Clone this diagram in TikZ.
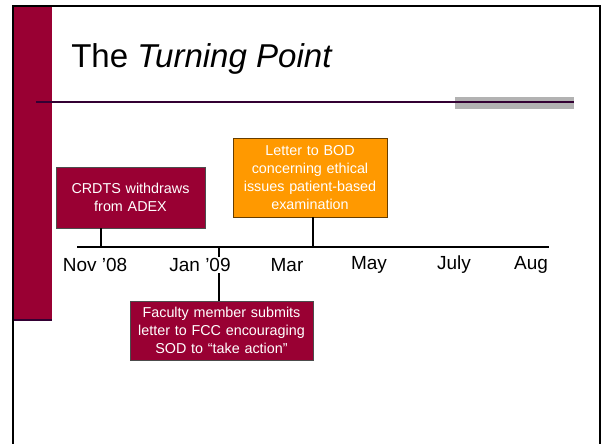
\documentclass[tikz,border=0pt]{standalone}
\usepackage{fontspec}
\setmainfont{Liberation Sans}
\usepackage{tikz}

\definecolor{maroon}{HTML}{990033}
\definecolor{plum}{HTML}{330033}
\definecolor{amber}{HTML}{FF9900}
\definecolor{barGray}{HTML}{B2B2B2}

\begin{document}
\begin{tikzpicture}[x=0.025cm, y=-0.025cm,
        evbox/.style={draw=black!70, line width=0.5pt, text=white, align=center,
            inner sep=0pt, font=\fontsize{10.2}{12.8}\selectfont},
        tick/.style={line width=2.1pt}]
            \useasboundingbox (0,0) rectangle (602,444);

            % slide frame and side bar
            \fill[maroon] (14,6) rectangle (52,320);
            \draw[plum, line width=1.4pt] (14,320) -- (52,320);
            \draw[line width=1.8pt] (13,444) -- (13,6) -- (600,6) -- (600,444);

            % title and rule
            \node[anchor=base west, inner sep=0pt, font=\fontsize{23.5}{28}\selectfont] (title) at (71,68) {The \textit{Turning Point}};
            \fill[barGray] (455,97) rectangle (574,109);
            \draw[plum, line width=1.4pt] (36,102) -- (574,102);

            % events
            \node[evbox, fill=maroon, text width=3.72cm, minimum height=1.52cm] (crdts) at (130.5,197.5)
                {CRDTS withdraws\\from ADEX};
            \node[evbox, fill=amber, draw=black!60!amber, text width=3.85cm, minimum height=1.97cm] (letter) at (310,177.5)
                {Letter to BOD\\concerning ethical\\issues patient-based\\examination};
            \node[evbox, fill=maroon, text width=4.58cm, minimum height=1.47cm] (faculty) at (221.5,330.5)
                {Faculty member submits\\letter to FCC encouraging\\SOD to “take action”};

            % time line
            \coordinate (start) at (77,247);
            \coordinate (end) at (549,247);
            \coordinate (nov) at (101,247);
            \coordinate (jan) at (219,247);
            \coordinate (mar) at (313,247);
            \draw[tick] (start) -- (end);
            \draw[tick] (nov) -- (nov |- crdts.south);
            \draw[tick] (mar) -- (mar |- letter.south);
            \draw[tick] (jan) -- (jan |- faculty.north);

            \foreach \x/\m in {95/Nov ’08, 200/Jan ’09, 287/Mar, 369/May, 454/July, 531/Aug}{
                \node[fill=white, inner sep=1pt, font=\fontsize{13.5}{16}\selectfont] (m\x) at (\x,265) {\m};
            }
        \end{tikzpicture}
\end{document}
